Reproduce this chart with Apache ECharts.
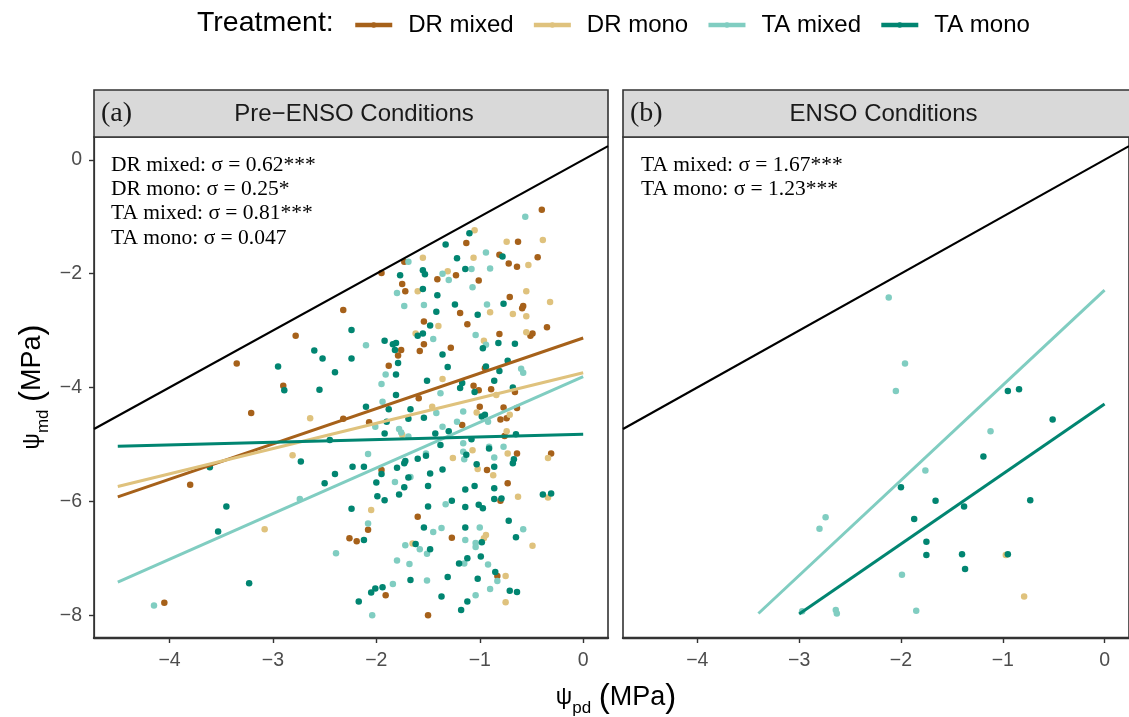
<!DOCTYPE html>
<html>
<head>
<meta charset="utf-8">
<script src="https://cdn.jsdelivr.net/npm/echarts@6/dist/echarts.min.js"></script>
<style>
  html, body { margin: 0; padding: 0; background: #fff; }
  #chart { width: 1129px; height: 717px; }
</style>
</head>
<body>
<div id="chart"></div>
<script>
// x = psi_pd (MPa), y = psi_md (MPa)
const xTicks = [-4, -3, -2, -1, 0];
const yTicks = [-8, -6, -4, -2, 0];
const treatments = ['DR mixed', 'DR mono', 'TA mixed', 'TA mono'];
const colors = ['#A6611A', '#DFC27D', '#80CDC1', '#018571'];

// panel (a): Pre-ENSO
const drMixedPre = [
  [-2.32,-2.64],[-2.78,-3.09],[-3.35,-3.58],[-2.90,-3.97],[-3.21,-4.45],[-2.32,-4.55],[-3.80,-5.71],[-2.26,-6.65],[-4.05,-7.78],
  [-1.95,-1.99],[-1.73,-1.79],[-1.75,-2.18],[-1.72,-2.31],[-1.41,-2.10],[-1.23,-2.03],[-1.13,-1.46],[-1.19,-2.69],[-1.12,-2.89],
  [-1.54,-2.84],[-1.54,-3.24],[-1.58,-3.36],[-1.76,-3.34],[-1.79,-3.44],[-1.88,-3.62],[-1.28,-3.30],[-1.59,-4.19],
  [-2.07,-4.61],[-1.95,-5.45],[-1.60,-6.27],[-2.19,-6.70],[-2.08,-6.50],[-1.27,-6.64],[-1.91,-7.65],[-1.50,-8.00],[-1.17,-4.66],
  [-0.40,-0.88],[-0.63,-1.44],[-0.81,-1.67],[-0.72,-1.82],[-0.64,-1.88],[-0.44,-1.71],[-1.01,-2.12],[-0.71,-2.41],[-0.58,-2.57],
  [-0.59,-2.61],[-0.81,-3.06],[-0.51,-3.09],[-0.49,-3.05],[-0.35,-2.94],[-0.95,-3.66],[-1.06,-3.97],[-1.01,-4.05],[-0.89,-4.03],
  [-0.66,-4.08],[-1.00,-4.34],[-0.77,-4.35],
  [-0.80,-4.56],[-0.74,-4.54],[-0.64,-4.36],[-0.76,-4.85],[-0.64,-5.16],[-0.31,-5.16],[-0.93,-5.45],[-0.73,-5.68],[-0.80,-5.99],[-0.83,-7.31]
];
const drMonoPre = [
  [-2.64,-4.54],[-2.81,-5.19],[-3.08,-6.49],
  [-1.55,-1.72],[-1.31,-1.96],[-1.60,-2.31],[-1.40,-2.92],[-1.62,-3.05],[-1.36,-3.85],[-1.46,-4.34],
  [-2.05,-6.15],[-1.75,-4.83],[-1.26,-5.24],[-1.65,-6.74],
  [-1.05,-1.24],[-0.74,-1.44],[-0.39,-1.41],[-1.06,-1.72],[-0.53,-1.85],[-0.55,-2.31],[-0.32,-2.50],[-0.90,-2.68],[-0.68,-2.71],
  [-0.55,-2.75],[-0.96,-3.18],[-0.55,-3.03],[-0.84,-4.13],
  [-1.03,-4.44],[-0.71,-4.48],[-0.74,-4.77],[-1.07,-5.10],[-0.73,-5.16],[-0.34,-5.24],[-1.02,-5.43],[-0.87,-5.54],[-0.63,-5.92],
  [-0.34,-5.93],[-0.94,-6.59],[-0.96,-6.65],[-0.49,-6.78],[-0.75,-7.31],[-0.75,-7.77]
];
const taMixedPre = [
  [-2.74,-5.96],[-2.39,-6.91],[-4.15,-7.83],
  [-1.69,-1.79],[-1.36,-2.00],[-1.30,-2.11],[-1.80,-2.34],[-1.73,-2.57],[-1.54,-2.55],[-1.45,-3.15],[-2.10,-3.26],[-1.91,-3.77],
  [-1.95,-3.94],[-1.94,-4.25],[-1.38,-4.10],
  [-2.08,-5.17],[-1.82,-5.66],[-1.67,-5.57],[-1.78,-4.73],[-1.76,-4.79],[-1.69,-4.86],[-1.42,-4.45],[-1.36,-4.69],[-1.22,-4.60],
  [-1.16,-4.42],[-1.16,-4.98],[-1.15,-5.26],[-1.16,-5.13],[-1.52,-5.16],[-2.08,-6.39],[-1.33,-6.05],[-1.37,-6.47],[-1.45,-6.54],
  [-1.72,-6.77],[-1.58,-6.84],[-1.51,-6.92],[-1.80,-7.04],[-1.68,-7.10],[-1.51,-7.39],[-1.84,-7.45],[-1.14,-6.68],[-2.04,-8.00],[-2.01,-4.69],
  [-0.56,-1.00],[-0.94,-1.63],[-0.90,-1.91],[-1.08,-1.92],[-1.07,-2.24],[-0.93,-2.54],[-1.04,-3.08],[-0.94,-3.25],[-0.60,-3.67],[-0.58,-3.74],
  [-0.92,-4.60],[-0.91,-5.04],[-0.77,-5.04],[-0.86,-5.23],[-1.00,-6.46],[-0.58,-6.49],[-1.04,-6.73],[-1.04,-6.80],[-0.92,-7.11],
  [-1.15,-7.09],[-0.83,-7.40],[-0.90,-7.54],[-1.04,-7.65]
];
const taMonoPre = [
  [-2.24,-2.99],[-2.60,-3.35],[-2.52,-3.49],[-2.24,-3.49],[-2.95,-3.63],[-2.40,-3.73],[-2.89,-4.05],[-2.55,-4.04],[-2.45,-4.92],
  [-3.61,-5.40],[-2.73,-5.30],[-2.23,-5.39],[-2.40,-5.52],[-2.50,-5.68],[-3.45,-6.09],[-2.24,-6.13],[-3.53,-6.53],[-3.23,-7.44],
  [-1.92,-3.18],[-1.84,-3.24],[-1.81,-3.22],[-1.82,-3.34],[-1.79,-3.57],[-1.81,-3.77],[-1.77,-2.03],[-1.55,-1.94],[-1.53,-2.01],
  [-1.55,-2.27],[-1.41,-2.38],[-1.42,-2.67],[-1.48,-2.91],[-1.55,-3.05],[-1.60,-3.09],[-1.33,-1.49],[-1.22,-1.73],[-1.14,-1.92],
  [-1.24,-2.54],[-1.10,-1.29],[-1.36,-3.42],[-1.31,-3.64],[-1.51,-3.88],[-1.81,-4.13],[-1.19,-4.01],[-1.17,-3.92],
  [-2.10,-4.34],[-1.88,-4.38],[-1.67,-4.38],[-1.69,-4.55],[-1.54,-4.53],[-1.90,-4.60],[-1.92,-4.81],[-1.43,-4.81],[-1.30,-4.77],
  [-1.38,-5.01],[-2.12,-5.39],[-1.95,-5.52],[-1.80,-5.41],[-1.73,-5.33],[-1.72,-5.29],[-1.60,-5.25],[-1.52,-5.20],[-1.36,-5.44],
  [-1.48,-5.51],[-1.69,-5.58],[-2.00,-5.67],[-1.73,-5.75],[-1.50,-5.73],[-1.78,-5.88],[-1.99,-5.91],[-1.92,-5.98],[-1.50,-6.09],
  [-1.27,-5.99],[-1.14,-5.79],[-1.14,-6.10],[-1.54,-6.46],[-2.12,-6.68],[-1.62,-6.75],[-1.48,-6.84],[-1.14,-6.46],[-1.20,-7.09],
  [-1.12,-7.00],[-1.31,-7.33],[-1.67,-7.38],[-1.94,-7.51],[-2.01,-7.53],[-2.05,-7.60],[-2.17,-7.76],[-1.37,-7.67],[-1.18,-7.91],[-1.12,-7.76],
  [-0.78,-1.70],[-0.77,-2.53],[-1.02,-2.72],[-0.82,-3.22],[-0.97,-3.31],[-0.66,-3.23],[-0.73,-3.53],[-0.94,-3.63],[-0.81,-3.71],
  [-0.86,-3.88],[-0.68,-4.00],[-1.05,-4.08],
  [-0.98,-4.51],[-0.95,-4.48],[-1.08,-4.91],[-0.65,-4.82],[-1.13,-5.18],[-0.91,-5.07],[-1.03,-5.35],[-0.86,-5.39],[-0.67,-5.26],
  [-0.68,-5.33],[-1.05,-5.73],[-0.86,-5.77],[-0.86,-5.96],[-0.79,-5.95],[-1.01,-6.06],[-0.97,-6.12],[-0.39,-5.88],[-0.31,-5.86],
  [-0.72,-6.34],[-0.65,-6.63],[-0.98,-6.72],[-0.99,-6.97],[-0.85,-7.24],[-1.02,-7.36],[-0.71,-7.57],[-0.64,-7.59]
];

// panel (b): ENSO
const drMonoEnso = [[-0.97,-6.94],[-0.79,-7.67]];
const taMixedEnso = [
  [-2.12,-2.42],[-1.96,-3.58],[-2.05,-4.06],[-1.12,-4.77],[-1.76,-5.46],[-2.74,-6.28],[-2.80,-6.48],
  [-1.99,-7.29],[-2.64,-7.91],[-2.63,-7.97],[-1.85,-7.92],[-2.97,-7.93]
];
const taMonoEnso = [
  [-0.95,-4.06],[-0.84,-4.03],[-0.51,-4.56],[-1.19,-5.21],[-2.00,-5.75],[-1.66,-5.99],[-1.38,-6.09],[-0.73,-5.98],
  [-1.87,-6.31],[-1.75,-6.71],[-1.75,-6.94],[-1.40,-6.93],[-1.37,-7.19],[-0.95,-6.93]
];

// fitted lines (start, end)
const drMixedFitPre = [[-4.5, -5.92], [0, -3.13]];
const drMonoFitPre = [[-4.5, -5.74], [0, -3.74]];
const taMixedFitPre = [[-4.5, -7.42], [0, -3.81]];
const taMonoFitPre = [[-4.5, -5.03], [0, -4.82]];
const taMixedFitEnso = [[-3.4, -7.97], [0, -2.29]];
const taMonoFitEnso = [[-3.0, -7.98], [0, -4.29]];
const oneToOne = [[-4.73, -4.73], [0.24, 0.24]];

const statsPre = ['DR mixed: σ = 0.62***', 'DR mono: σ = 0.25*', 'TA mixed: σ = 0.81***', 'TA mono: σ = 0.047'];
const statsEnso = ['TA mixed: σ = 1.67***', 'TA mono: σ = 1.23***'];

const sans = 'Liberation Sans, Arial, sans-serif';
const serif = 'Liberation Serif, Times New Roman, serif';
const minus = v => String(v).replace('-', '\u2212');

function pts(name, data, gi, color) {
  return { name, type: 'scatter', xAxisIndex: gi, yAxisIndex: gi, data, symbolSize: 6.5,
    itemStyle: { color, opacity: 1 }, z: 2, silent: true };
}
function fit(name, data, gi, color, w) {
  return { name, type: 'line', xAxisIndex: gi, yAxisIndex: gi, data, symbol: 'circle', symbolSize: 6,
    showSymbol: false, lineStyle: { color, width: w || 3 }, itemStyle: { color }, z: 4, silent: true };
}
function xAx(gi) {
  return { gridIndex: gi, type: 'value', min: -4.73, max: 0.24,
    axisLine: { show: true, onZero: false, lineStyle: { color: '#333', width: 2.4 } },
    axisTick: { show: true, length: 5, customValues: xTicks, lineStyle: { color: '#333', width: 1.4 } },
    axisLabel: { customValues: xTicks, color: '#4D4D4D', fontSize: 19.5, fontFamily: sans, margin: 13, formatter: minus },
    splitLine: { show: false } };
}
function yAx(gi) {
  return { gridIndex: gi, type: 'value', min: -8.4, max: 0.4,
    axisLine: { show: gi === 0, onZero: false, lineStyle: { color: '#333', width: 1.2 } },
    axisTick: { show: gi === 0, length: 5, customValues: yTicks, lineStyle: { color: '#333', width: 1.4 } },
    axisLabel: { show: gi === 0, customValues: yTicks, color: '#4D4D4D', fontSize: 19.5, fontFamily: sans, margin: 12, formatter: minus },
    splitLine: { show: false } };
}
function strip(x, w, tag, title) {
  return [
    { type: 'rect', shape: { x: x, y: 90, width: w, height: 47 }, style: { fill: '#D9D9D9', stroke: '#333', lineWidth: 1.6 } },
    { type: 'text', x: x + 7, y: 114, style: { text: tag, font: '28px ' + serif, fill: '#1A1A1A', verticalAlign: 'middle' } },
    { type: 'text', x: x + w / 2 + 3, y: 114, style: { text: title, font: '24px ' + sans, fill: '#1A1A1A', align: 'center', verticalAlign: 'middle' } }
  ];
}
function stats(x, lines) {
  return lines.map((t, i) => ({ type: 'text', x: x, y: 165 + i * 24.4,
    style: { text: t, font: '21.5px ' + serif, fill: '#000', verticalAlign: 'middle' } }));
}
const titleRich = {
  p: { fontSize: 23, fontFamily: sans, lineHeight: 38, verticalAlign: 'middle' },
  s: { fontSize: 17, fontFamily: sans, lineHeight: 38, verticalAlign: 'bottom' },
  l: { fontSize: 33, fontFamily: sans, lineHeight: 38, verticalAlign: 'middle' },
  m: { fontSize: 27, fontFamily: sans, lineHeight: 38, verticalAlign: 'middle' }
};

const chart = echarts.init(document.getElementById('chart'));
chart.setOption({
  animation: false,
  backgroundColor: '#fff',
  legend: {
    data: treatments, left: 348, top: 8, itemWidth: 37, itemHeight: 7, itemGap: 18, selectedMode: false,
    lineStyle: { width: 4.5 },
    textStyle: { fontSize: 24, fontFamily: sans, color: '#000', padding: [0, 0, 0, 11] }
  },
  grid: [
    { left: 94, top: 137, width: 514, height: 501, show: true, borderColor: '#333', borderWidth: 1.6 },
    { left: 623, top: 137, width: 515, height: 501, show: true, borderColor: '#333', borderWidth: 1.6 }
  ],
  xAxis: [xAx(0), xAx(1)],
  yAxis: [yAx(0), yAx(1)],
  series: [
    fit('DR mixed', drMixedFitPre, 0, colors[0]),
    fit('DR mono', drMonoFitPre, 0, colors[1]),
    fit('TA mixed', taMixedFitPre, 0, colors[2]),
    fit('TA mono', taMonoFitPre, 0, colors[3]),
    fit('TA mixed', taMixedFitEnso, 1, colors[2]),
    fit('TA mono', taMonoFitEnso, 1, colors[3]),
    fit('1:1', oneToOne, 0, '#000', 2.2),
    fit('1:1', oneToOne, 1, '#000', 2.2),
    pts('DR mixed', drMixedPre, 0, colors[0]),
    pts('DR mono', drMonoPre, 0, colors[1]),
    pts('TA mixed', taMixedPre, 0, colors[2]),
    pts('TA mono', taMonoPre, 0, colors[3]),
    pts('DR mono', drMonoEnso, 1, colors[1]),
    pts('TA mixed', taMixedEnso, 1, colors[2]),
    pts('TA mono', taMonoEnso, 1, colors[3])
  ],
  graphic: [
    { type: 'text', x: 197, y: 23, style: { text: 'Treatment:', font: '28.5px ' + sans, fill: '#000', verticalAlign: 'middle' } },
    ...strip(94, 514, '(a)', 'Pre\u2212ENSO Conditions'),
    ...strip(623, 515, '(b)', 'ENSO Conditions'),
    ...stats(111, statsPre),
    ...stats(641, statsEnso),
    { type: 'text', x: 616, y: 698, style: {
      text: '{p|ψ}{s|pd}{m| }{l|(}{m|MPa}{l|)}', align: 'center', verticalAlign: 'middle', fill: '#000', rich: titleRich } },
    { type: 'text', x: 33, y: 387, rotation: Math.PI / 2, style: {
      text: '{p|ψ}{s|md}{m| }{l|(}{m|MPa}{l|)}', align: 'center', verticalAlign: 'middle', fill: '#000', rich: titleRich } }
  ]
});
</script>
</body>
</html>
